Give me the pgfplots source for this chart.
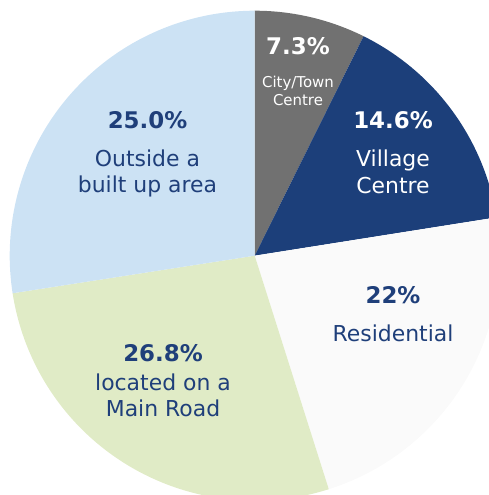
\documentclass[border=0pt]{standalone}
\usepackage{pgfplots}
\usepackage{pgfplotstable}
\pgfplotsset{compat=1.18}
\usepackage{fontspec}
\setmainfont{DejaVu Sans}
\newfontfamily\pctfont{DejaVu Sans}
\definecolor{cgrey}{HTML}{717171}
\definecolor{cnavy}{HTML}{1C3F7A}
\definecolor{cwhite}{HTML}{FAFAFA}
\definecolor{cgreen}{HTML}{E0EBC6}
\definecolor{cblue}{HTML}{CCE2F4}
\definecolor{ctext}{HTML}{1F3F7A}

% share of the pie drawn for each slice (percent), clockwise from 12 o'clock
\pgfplotstableread{
slice pct
City 7.33
Village 15.17
Residential 22.61
MainRoad 27.44
Outside 27.45
}\piedata

\begin{document}
\begin{tikzpicture}[x=1bp,y=1bp]
\pgfplotstablegetelem{0}{pct}\of\piedata \let\pA\pgfplotsretval
\pgfplotstablegetelem{1}{pct}\of\piedata \let\pB\pgfplotsretval
\pgfplotstablegetelem{2}{pct}\of\piedata \let\pC\pgfplotsretval
\pgfplotstablegetelem{3}{pct}\of\piedata \let\pD\pgfplotsretval
\pgfplotstablegetelem{4}{pct}\of\piedata \let\pE\pgfplotsretval
\pgfmathsetmacro\aZ{90}
\pgfmathsetmacro\aA{\aZ-3.6*\pA}
\pgfmathsetmacro\aB{\aA-3.6*\pB}
\pgfmathsetmacro\aC{\aB-3.6*\pC}
\pgfmathsetmacro\aD{\aC-3.6*\pD}
\pgfmathsetmacro\aE{\aD-3.6*\pE}
\def\cx{254.7}
\def\cy{239.3}
\def\R{245}
\begin{axis}[
  name=ax,
  width=489bp, height=495bp, scale only axis,
  xmin=0, xmax=489, ymin=0, ymax=495,
  hide axis, clip=true,
  samples=90,
]
\addplot[fill=cgrey, draw=none, domain=\aA:\aZ] ({\cx+\R*cos(x)},{\cy+\R*sin(x)}) -- (\cx,\cy) -- cycle;
\addplot[fill=cnavy, draw=none, domain=\aB:\aA] ({\cx+\R*cos(x)},{\cy+\R*sin(x)}) -- (\cx,\cy) -- cycle;
\addplot[fill=cwhite, draw=none, domain=\aC:\aB] ({\cx+\R*cos(x)},{\cy+\R*sin(x)}) -- (\cx,\cy) -- cycle;
\addplot[fill=cgreen, draw=none, domain=\aD:\aC] ({\cx+\R*cos(x)},{\cy+\R*sin(x)}) -- (\cx,\cy) -- cycle;
\addplot[fill=cblue, draw=none, domain=\aE:\aD] ({\cx+\R*cos(x)},{\cy+\R*sin(x)}) -- (\cx,\cy) -- cycle;

% labels (pixel coordinates, y measured from the bottom)
\node[white, font=\pctfont\bfseries\fontsize{23}{26}\selectfont] at (298,449) {7.3\%};
\node[white, align=center, font=\fontsize{15}{18}\selectfont] at (298,404) {City/Town\\Centre};

\node[white, font=\pctfont\bfseries\fontsize{23}{26}\selectfont] at (393,375) {14.6\%};
\node[white, align=center, font=\fontsize{22}{27}\selectfont] at (393,323) {Village\\Centre};

\node[ctext, font=\pctfont\bfseries\fontsize{23}{26}\selectfont] at (147.5,375) {25.0\%};
\node[ctext, align=center, font=\fontsize{22}{27}\selectfont] at (147.5,321.5) {Outside a\\built up area};

\node[ctext, font=\pctfont\bfseries\fontsize{23}{26}\selectfont] at (393,200) {22\%};
\node[ctext, font=\fontsize{22}{27}\selectfont] at (393,162) {Residential};

\node[ctext, font=\pctfont\bfseries\fontsize{23}{26}\selectfont] at (163,142) {26.8\%};
\node[ctext, align=center, font=\fontsize{22}{26}\selectfont] at (163,99.5) {located on a\\Main Road};
\end{axis}
\pgfresetboundingbox
\path (ax.south west) rectangle (ax.north east);
\end{tikzpicture}
\end{document}
